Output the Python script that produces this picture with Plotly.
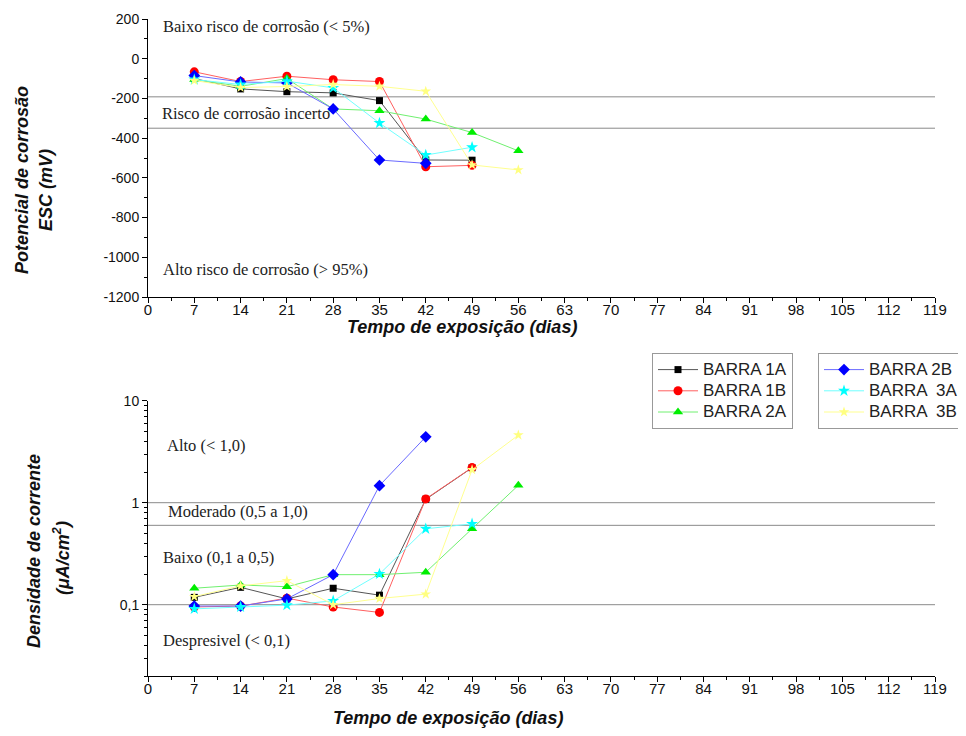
import plotly.graph_objects as go

# ---------------- data ----------------
days = [7, 14, 21, 28, 35, 42, 49, 56]
series_names = ["BARRA 1A", "BARRA 1B", "BARRA 2A", "BARRA 2B", "BARRA  3A", "BARRA  3B"]

# Corrosion potential (mV, ESC)
pot_1A = [-100, -152, -166, -172, -211, -510, -511]
pot_1B = [-66, -115, -88, -106, -115, -544, -537]
pot_2A = [-105, -139, -100, -253, -262, -304, -372, -464]
pot_2B = [-85, -117, -122, -253, -510, -527]
pot_3A = [-105, -130, -113, -147, -324, -485, -446]
pot_3B = [-110, -145, -140, -130, -139, -164, -535, -560]

# Current density (uA/cm2)
cur_1A = [0.118, 0.148, 0.114, 0.145, 0.124, 1.08, 2.2]
cur_1B = [0.095, 0.097, 0.116, 0.095, 0.084, 1.09, 2.21]
cur_2A = [0.145, 0.156, 0.150, 0.197, 0.197, 0.208, 0.555, 1.48]
cur_2B = [0.097, 0.097, 0.114, 0.197, 1.47, 4.42]
cur_3A = [0.091, 0.095, 0.099, 0.109, 0.200, 0.555, 0.62]
cur_3B = [0.120, 0.153, 0.172, 0.100, 0.115, 0.127, 2.1, 4.6]

pot_limits = [-192, -350]
cur_limits = [1.0, 0.6, 0.1]

x_ticks = list(range(0, 120, 7))
pot_tickvals = [200, 0, -200, -400, -600, -800, -1000, -1200]
pot_ticktext = ["200", "0", "-200", "-400", "-600", "-800", "-1000", "-1200"]
cur_tickvals = [0.1, 1, 10]
cur_ticktext = ["0,1", "1", "10"]

pot_data = [pot_1A, pot_1B, pot_2A, pot_2B, pot_3A, pot_3B]
cur_data = [cur_1A, cur_1B, cur_2A, cur_2B, cur_3A, cur_3B]

# ---------------- styles ----------------
marker_colors = ["#000000", "#ff0000", "#00ee00", "#0000ff", "#00ffff", "#ffff80"]
line_colors = ["#555555", "#ff6060", "#70f070", "#6a6aff", "#70ffff", "#ffff90"]
symbols = ["square", "circle", "triangle-up", "diamond", "star", "star"]
sizes = [7, 9, 9, 9, 9, 8]
legends = ["legend", "legend", "legend", "legend2", "legend2", "legend2"]

# page body has a default 8px margin: work in screen pixels and convert
OFF = 8
W, H = 950, 720
def px(x):
    return (x - OFF) / W
def py(y):
    return 1 - (y - OFF) / H

fig = go.Figure()

# reference limit lines
for v in pot_limits:
    fig.add_trace(go.Scatter(x=[0, 119], y=[v, v], mode="lines",
                             line=dict(color="#8a8a8a", width=1),
                             showlegend=False, hoverinfo="skip",
                             xaxis="x", yaxis="y"))
for v in cur_limits:
    fig.add_trace(go.Scatter(x=[0, 119], y=[v, v], mode="lines",
                             line=dict(color="#8a8a8a", width=1),
                             showlegend=False, hoverinfo="skip",
                             xaxis="x2", yaxis="y2"))

for i, name in enumerate(series_names):
    fig.add_trace(go.Scatter(
        x=days[:len(pot_data[i])], y=pot_data[i], mode="lines+markers", name=name,
        line=dict(color=line_colors[i], width=1),
        marker=dict(symbol=symbols[i], color=marker_colors[i], size=sizes[i]),
        xaxis="x", yaxis="y", showlegend=False, legendgroup=name))
for i, name in enumerate(series_names):
    fig.add_trace(go.Scatter(
        x=days[:len(cur_data[i])], y=cur_data[i], mode="lines+markers",
        name='<span style="font-size:17px">' + name + '</span>',
        line=dict(color=line_colors[i], width=1),
        marker=dict(symbol=symbols[i], color=marker_colors[i], size=sizes[i]),
        xaxis="x2", yaxis="y2", showlegend=True, legendgroup=name,
        legend=legends[i]))

axis_common = dict(showline=True, linecolor="black", linewidth=1, showgrid=False,
                   zeroline=False, ticks="outside", tickcolor="black", ticklen=5,
                   mirror=False, automargin=False)
xtickfont = dict(family="Liberation Sans Narrow, Arial Narrow, Arial", size=15, color="#111")
ytickfont = dict(family="Liberation Sans, Arial", size=14, color="#111")

minor_log = [m * 10 ** e for e in (-2, -1, 0) for m in range(2, 10)]

legend_common = dict(xanchor="left", yanchor="top", bordercolor="#999", borderwidth=1,
                     bgcolor="white",
                     font=dict(family="Liberation Sans, Arial", size=14, color="#222"),
                     itemwidth=40, tracegroupgap=0)

xminor = dict(ticks="outside", ticklen=3, tickmode="linear", tick0=3.5, dtick=7,
              tickcolor="black")

fig.update_layout(
    width=W, height=H, margin=dict(l=0, r=0, t=0, b=0, autoexpand=False),
    paper_bgcolor="white", plot_bgcolor="white",
    xaxis=dict(domain=[px(148), px(935)], range=[0, 119], anchor="y",
               tickmode="array", tickvals=x_ticks, tickfont=xtickfont,
               ticklabelstandoff=-6, minor=xminor, **axis_common),
    yaxis=dict(domain=[py(297), py(19)], range=[-1200, 200], anchor="x",
               tickmode="array", tickvals=pot_tickvals, ticktext=pot_ticktext,
               tickfont=ytickfont,
               minor=dict(ticks="outside", ticklen=3, tickmode="linear", tick0=-1100, dtick=200,
                          tickcolor="black"),
               **axis_common),
    xaxis2=dict(domain=[px(148), px(935)], range=[0, 119], anchor="y2",
                tickmode="array", tickvals=x_ticks, tickfont=xtickfont,
                ticklabelstandoff=-6, minor=xminor, **axis_common),
    yaxis2=dict(domain=[py(676), py(400.7)], type="log", range=[-1.699, 1], anchor="x2",
                tickmode="array", tickvals=cur_tickvals, ticktext=cur_ticktext,
                tickfont=ytickfont,
                minor=dict(ticks="outside", ticklen=3, tickmode="array", tickvals=minor_log,
                           tickcolor="black"),
                **axis_common),
    legend=dict(x=px(652), y=py(353), **legend_common),
    legend2=dict(x=px(818), y=py(353), **legend_common),
)

serif = dict(family="Liberation Serif, Times New Roman, serif", size=16.5, color="#222")
notes = [
    ("Baixo risco de corrosão (< 5%)", 161, 26),
    ("Risco de corrosão incerto", 160, 113),
    ("Alto risco de corrosão (> 95%)", 161, 269),
    ("Alto (< 1,0)", 165, 446),
    ("Moderado (0,5 a 1,0)", 166, 512),
    ("Baixo (0,1 a 0,5)", 161, 557),
    ("Despresivel (< 0,1)", 161, 640),
]
for txt, xx, yy in notes:
    fig.add_annotation(text=txt, x=px(xx), y=py(yy), xref="paper", yref="paper",
                       xanchor="left", yanchor="middle", showarrow=False, font=serif)

title_font = dict(family="Liberation Sans, Arial", size=18, color="#111")
titles = [
    ("<b><i>Tempo de exposição (dias)</i></b>", 462, 327, 0),
    ("<b><i>Tempo de exposição (dias)</i></b>", 448, 718, 0),
    ("<b><i>Potencial de corrosão</i></b>", 22, 180, -90),
    ("<b><i>ESC (mV)</i></b>", 46, 190, -90),
    ("<b><i>Densidade de corrente</i></b>", 34, 551, -90),
    ("<b><i>(μA/cm<sup>2</sup>)</i></b>", 61, 558, -90),
]
for txt, xx, yy, ang in titles:
    fig.add_annotation(text=txt, x=px(xx), y=py(yy), xref="paper", yref="paper",
                       xanchor="center", yanchor="middle", showarrow=False,
                       textangle=ang, font=title_font)

fig.write_html("out.html")
